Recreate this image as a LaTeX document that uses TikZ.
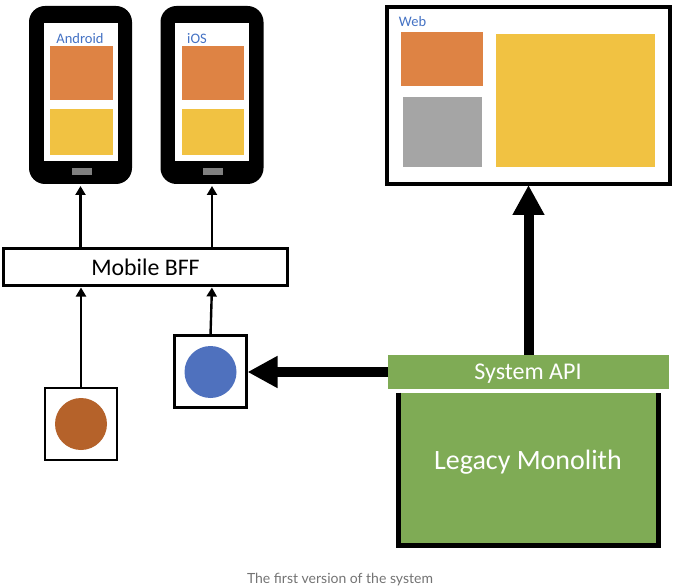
\documentclass[tikz,border=0pt]{standalone}
\usepackage{fontspec}
\usepackage{xcolor}
\usetikzlibrary{arrows.meta}
\setmainfont{Carlito}
\newfontfamily\capfont{Lato}
\definecolor{tileorange}{HTML}{DE8344}
\definecolor{tileyellow}{HTML}{F1C242}
\definecolor{tilegray}{HTML}{A5A5A5}
\definecolor{apigreen}{HTML}{7FAB55}
\definecolor{labelblue}{HTML}{4472C4}
\definecolor{dotblue}{HTML}{4F71BE}
\definecolor{dotbrown}{HTML}{B5622A}
\tikzset{
  every node/.style={inner sep=0pt,outer sep=0pt},
  tilesize/.style 2 args={minimum width=#1pt,minimum height=#2pt},
  framed/.style={draw=black,fill=white},
  thinarrow/.style={line width=2.4pt,-{Triangle[length=9pt,width=10pt]},shorten >=2pt},
  fatarrow/.style={line width=10pt,-{Triangle[length=30pt,width=30pt]},shorten >=1pt},
  bluelabel/.style={text=labelblue,font=\fontsize{14.5}{17}\selectfont},
}
\begin{document}
\begin{tikzpicture}[x=1pt,y=-1pt]
  \useasboundingbox (0,0) rectangle (680,588);
  % phones
  \foreach \x/\n/\t/\lx in {80.5/phoneA/Android/80,212/phoneB/iOS/197} {
    \node[fill=black,rounded corners=16pt,tilesize={103}{178}] (\n) at (\x,95) {};
    \node[fill=white,tilesize={74}{138}] (\n screen) at (\x,92) {};
    \node[bluelabel] (\n label) at (\lx,38.5) {\t};
    \node[fill=tileorange,tilesize={62.5}{54}] (\n top) at (\x+1,73) {};
    \node[fill=tileyellow,tilesize={62.5}{46}] (\n bottom) at (\x+1,132) {};
    \node[fill=black!50,tilesize={20}{7}] (\n button) at (\x+1,171.5) {};
  }
  % web page
  \node[framed,line width=4pt,tilesize={283}{177}] (web) at (528.5,95.5) {};
  \node[bluelabel] (weblabel) at (412.5,21.5) {Web};
  \node[fill=tileorange,tilesize={82}{54}] (webtop) at (442,59) {};
  \node[fill=tilegray,tilesize={79}{70}] (webgray) at (442.5,132) {};
  \node[fill=tileyellow,tilesize={159}{133}] (webmain) at (575.5,100.5) {};
  % bff
  \node[framed,line width=2.4pt,tilesize={284}{37},font=\fontsize{23.8}{28}\selectfont] (bff) at (145.5,267) {Mobile BFF};
  % small services
  \node[framed,line width=2.6pt,tilesize={72}{72}] (brownbox) at (81,424) {};
  \node[circle,fill=dotbrown,minimum size=52pt] (browndot) at (81,424) {};
  \node[framed,line width=2.6pt,tilesize={72}{72}] (bluebox) at (210.5,371.5) {};
  \node[circle,fill=dotblue,minimum size=52pt] (bluedot) at (210.5,372) {};
  % monolith
  \node[fill=apigreen,tilesize={260}{153}] (mono) at (528.5,469) {};
  \node[text=white,font=\fontsize{28}{33}\selectfont] (monolabel) at (528,462.5) {Legacy Monolith};
  \draw[line width=5pt] (mono.north west) -- (mono.south west) -- (mono.south east) -- (mono.north east);
  \node[fill=apigreen,tilesize={281}{34}] (api) at (528.5,372) {};
  \node[text=white,font=\fontsize{24}{28}\selectfont] (apilabel) at (528,374) {System API};
  % caption
  \node[text=black!55,font=\capfont\fontsize{14}{17}\selectfont] (caption) at (340,580) {The first version of the system};
  % arrows
  \draw[thinarrow] (bff.north -| phoneA.south) -- (phoneA.south);
  \draw[thinarrow] (bff.north -| phoneB.south) -- (phoneB.south);
  \draw[thinarrow] (brownbox.north) -- (brownbox.north |- bff.south);
  \draw[thinarrow] (bluebox.north) -- (phoneB.south |- bff.south);
  \draw[fatarrow] (api.west) -- (api.west -| bluebox.east);
  \draw[fatarrow] (api.north) -- (web.south);
\end{tikzpicture}
\end{document}
